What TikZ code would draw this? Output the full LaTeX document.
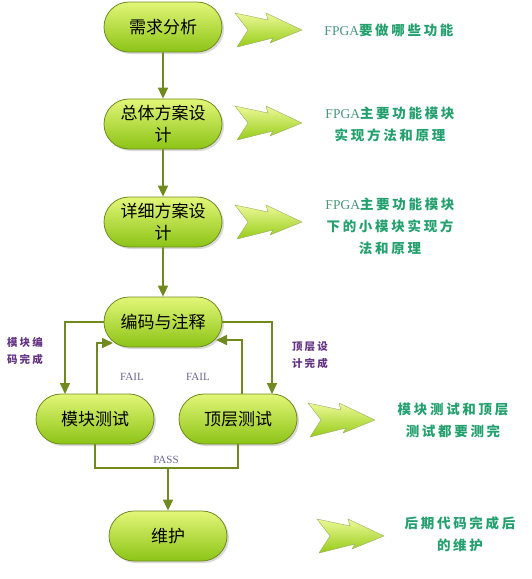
\documentclass[tikz,border=0pt]{standalone}
\usepackage{fontspec}
\setmainfont{Noto Sans CJK SC}
\newfontfamily\lat{Liberation Serif}
\usetikzlibrary{shapes.misc,arrows.meta,shadows}
\definecolor{boxtop}{RGB}{226,246,120}
\definecolor{boxbottom}{RGB}{140,196,22}
\definecolor{edge}{RGB}{112,138,32}
\definecolor{chevtop}{RGB}{236,248,150}
\definecolor{chevbottom}{RGB}{150,204,24}
\definecolor{notegreen}{RGB}{36,160,110}
\definecolor{fpgagreen}{RGB}{70,150,120}
\definecolor{sidepurple}{RGB}{100,50,130}
\definecolor{resultgrey}{RGB}{110,100,150}

\begin{document}
\begin{tikzpicture}[x=1pt,y=-1pt,
  task/.style ={rounded rectangle, draw=edge, thick, top color=boxtop, bottom color=boxbottom,
    minimum width=120pt, minimum height=50pt, inner sep=1pt, align=center,
    font=\fontsize{17}{22}\selectfont,
    drop shadow={opacity=0.3, shadow xshift=2pt, shadow yshift=-2pt}},
  flow/.style ={draw=edge, line width=1.6pt, -{Triangle[width=10pt,length=11pt]}},
  line/.style ={draw=edge, line width=1.6pt},
  note/.style ={text=notegreen, align=center,
    font=\bfseries\fontsize{13.5}{22}\selectfont\addfontfeature{LetterSpace=20}},
  side/.style ={text=sidepurple, align=center,
    font=\bfseries\fontsize{10.5}{17}\selectfont\addfontfeature{LetterSpace=20}},
  result/.style ={text=resultgrey, font=\lat\fontsize{11}{13}\selectfont},
  chevron/.style ={draw=edge!70, thin, top color=chevtop, bottom color=chevbottom}]
 \useasboundingbox (0,0) rectangle (531,579);
 % flow steps
 \node[task] (A) at (163,27)  {需求分析};
 \node[task] (B) at (163,124) {总体方案设\\计};
 \node[task] (C) at (163,222) {详细方案设\\计};
 \node[task] (D) at (163,322) {编码与注释};
 \node[task] (E) at (95,419)  {模块测试};
 \node[task] (F) at (238,419) {顶层测试};
 \node[task] (G) at (168,536) {维护};
 \coordinate (e1) at (65,394);
 \coordinate (d1) at (113,343);
 \coordinate (f1) at (272,394);
 \coordinate (d2) at (216,340);
 \coordinate (P)  at (168,468);
 \draw[flow] (A) to (B);
 \draw[flow] (B) to (C);
 \draw[flow] (C) to (D);
 \draw[flow] (D.west) -| (e1);
 \draw[flow] ([xshift=2pt]E.north) |- (d1);
 \draw[flow] (D.east) -| (f1);
 \draw[flow] ([xshift=4pt]F.north) |- (d2);
 \draw[line] (E.south) |- (P) -| (F.south);
 \draw[flow] (P) to (G);
 % labels on the loops
 \node[side] (s1) at (25,351) {模块编\\码完成};
 \node[side] (s2) at (310,355) {顶层设\\计完成};
 \node[result] (r1) at (132,377) {FAIL};
 \node[result] (r2) at (198,377) {FAIL};
 \node[result] (r3) at (166,460) {PASS};
 % notes on the right
 \foreach \x/\y in {235/30, 235/123, 235/222, 308/420, 317/536}
   \draw[chevron, shift={(\x,\y)}] (0,-17) -- (33,-10) -- (31,-17) -- (67,0)
     -- (35,13) -- (38,8) -- (2,17) -- (13,0) -- cycle;
 \node[note] (n1) at (389,30)  {{\mdseries\lat\color{fpgagreen}FPGA}要做哪些功能};
 \node[note] (n2) at (390,124) {{\mdseries\lat\color{fpgagreen}FPGA}主要功能模块\\实现方法和原理};
 \node[note] (n3) at (390,226) {{\mdseries\lat\color{fpgagreen}FPGA}主要功能模块\\下的小模块实现方\\法和原理};
 \node[note] (n4) at (453,420) {模块测试和顶层\\测试都要测完};
 \node[note] (n5) at (460,534) {后期代码完成后\\的维护};
\end{tikzpicture}
\end{document}
